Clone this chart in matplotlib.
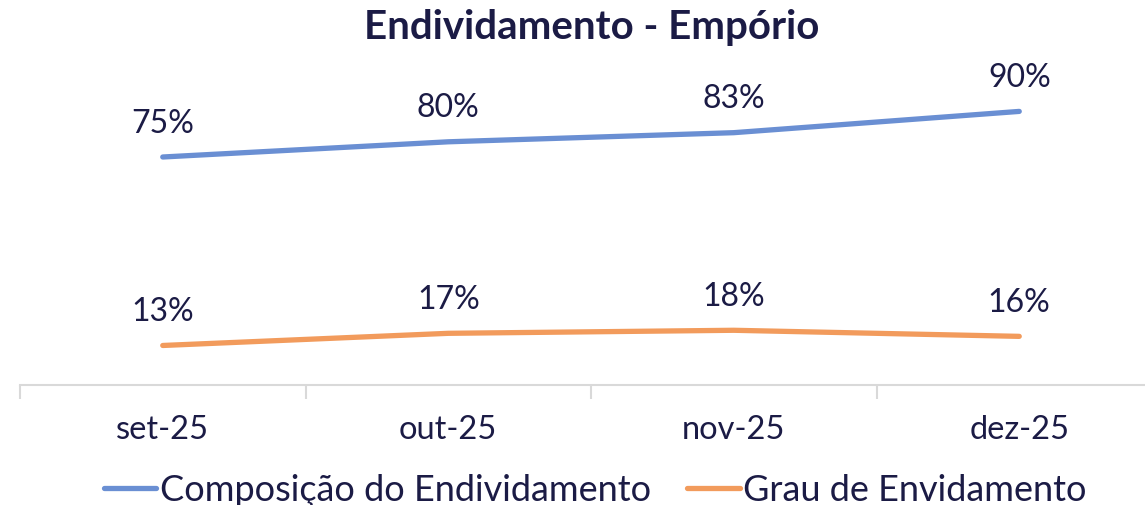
import matplotlib
matplotlib.use("Agg")
import matplotlib.pyplot as plt
from matplotlib.ticker import FixedLocator

# Data
months = ["set-25", "out-25", "nov-25", "dez-25"]
composicao = [75, 80, 83, 90]
grau = [13, 17, 18, 16]

text_color = "#1B1B45"
blue = "#6A8FD3"
orange = "#F29B5C"

plt.rcParams['font.family'] = ['Lato', 'DejaVu Sans']

fig = plt.figure(figsize=(11.45, 5.06), dpi=100)
ax = fig.add_axes([20 / 1145, (506 - 386) / 506, 1142 / 1145, 304 / 506])

x = list(range(len(months)))
ax.plot(x, composicao, color=blue, lw=3.8, solid_capstyle='round',
        label="Composição do Endividamento")
ax.plot(x, grau, color=orange, lw=3.8, solid_capstyle='round',
        label="Grau de Envidamento")

# Data labels above each point
for xi, v in zip(x, composicao):
    ax.annotate(f"{v}%", (xi, v), xytext=(0, 14), textcoords="offset points",
                ha="center", va="bottom", fontsize=23, color=text_color)
for xi, v in zip(x, grau):
    ax.annotate(f"{v}%", (xi, v), xytext=(0, 14), textcoords="offset points",
                ha="center", va="bottom", fontsize=23, color=text_color)

ax.set_xlim(-0.5, 3.5)
ax.set_ylim(0, 100)
ax.set_yticks([])
ax.set_xticks(x)
ax.set_xticklabels(months, fontsize=23.5, color=text_color)
ax.tick_params(axis='x', which='major', length=0, pad=21)
ax.xaxis.set_minor_locator(FixedLocator([-0.5, 0.5, 1.5, 2.5]))
ax.tick_params(axis='x', which='minor', length=10, width=1.5, color="#D9D9D9")

for side in ["top", "right", "left"]:
    ax.spines[side].set_visible(False)
ax.spines["bottom"].set_color("#D9D9D9")
ax.spines["bottom"].set_linewidth(1.5)

fig.text(0.517, 0.945, "Endividamento - Empório", ha="center", va="center",
         fontsize=29, fontweight="bold", color=text_color)

leg = fig.legend(loc="center", bbox_to_anchor=(0.52, 0.03), ncol=2, frameon=False,
                 fontsize=26, handlelength=1.45, handletextpad=0.1, columnspacing=1.0)
for t in leg.get_texts():
    t.set_color(text_color)

fig.savefig("out.png", dpi=100)
